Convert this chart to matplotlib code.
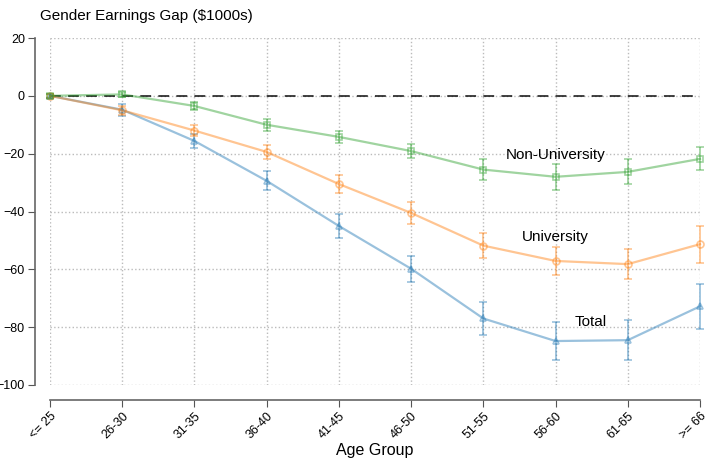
import numpy as np
import matplotlib
matplotlib.use('Agg')
import matplotlib.pyplot as plt

plt.rcParams['font.family'] = ['Liberation Sans', 'DejaVu Sans']

age_groups = ['<= 25', '26-30', '31-35', '36-40', '41-45',
              '46-50', '51-55', '56-60', '61-65', '>= 66']

total = [0, -4.8, -15.6, -29.4, -45.0, -59.8, -77.0, -84.8, -84.5, -72.8]
total_err = [0.8, 2.0, 2.5, 3.3, 4.3, 4.5, 5.8, 6.5, 6.9, 7.8]

univ = [0, -5.0, -12.0, -19.4, -30.5, -40.5, -51.8, -57.1, -58.2, -51.3]
univ_err = [0.8, 1.5, 2.0, 2.5, 3.0, 3.8, 4.3, 4.7, 5.2, 6.4]

nonuniv = [0, 0.5, -3.5, -10.0, -14.2, -19.1, -25.5, -28.0, -26.3, -21.8]
nonuniv_err = [0.6, 1.0, 1.5, 2.0, 2.0, 2.5, 3.7, 4.6, 4.3, 4.0]

# name, values, errors, colour, marker, label position (x, y)
series = [
    ('Total', total, total_err, '#1f77b4', '^', (7.49, -78.2)),
    ('University', univ, univ_err, '#ff7f0e', 'o', (7.0, -48.7)),
    ('Non-University', nonuniv, nonuniv_err, '#2ca02c', 's', (7.0, -20.5)),
]

fig = plt.figure(figsize=(7.05, 4.58), dpi=100)
ax = fig.add_axes([0.0709, 0.1594, 0.922, 0.7576])

# spines first: moving them rebuilds the ticks
for side in ['top', 'right']:
    ax.spines[side].set_visible(False)
ax.spines['left'].set_position(('outward', 11))
ax.spines['bottom'].set_position(('outward', 11))
for side in ['left', 'bottom']:
    ax.spines[side].set_color('#666666')
    ax.spines[side].set_linewidth(1.2)

x = np.arange(len(age_groups))
for name, vals, err, color, marker, pos in series:
    ax.errorbar(x, vals, yerr=err, color=color, alpha=0.45, lw=1.6,
                marker=marker, markersize=5, markerfacecolor='none',
                markeredgewidth=1.2, capsize=3, elinewidth=1.3,
                clip_on=False, zorder=3)
    ax.text(pos[0], pos[1], name, fontsize=11, ha='center', va='center')

ax.axhline(0, color='black', ls=(0, (6, 4)), lw=1.3, alpha=0.8, zorder=2)

ax.set_xlim(0, 9)
ax.set_ylim(-100, 20)
ax.spines['left'].set_bounds(-100, 20)
ax.spines['bottom'].set_bounds(0, 9)

ax.tick_params(axis='y', labelsize=9, length=5, pad=2, color='#555555')
ax.tick_params(axis='x', labelsize=9, length=5, pad=2, color='#555555')
ax.set_yticks(np.arange(-100, 21, 20))
ax.set_xticks(x)
# rotated labels hang down-left from each tick
ax.set_xticklabels(age_groups, rotation=45, ha='right', va='top',
                   rotation_mode='anchor')
ax.grid(True, ls=':', color='#bbbbbb', lw=1)
ax.set_axisbelow(True)

fig.text(0.531, 0.017, 'Age Group', fontsize=11.5, ha='center', va='center')
fig.text(0.057, 0.965, 'Gender Earnings Gap ($1000s)', fontsize=11,
         ha='left', va='center')

fig.savefig('out.png', dpi=100)
